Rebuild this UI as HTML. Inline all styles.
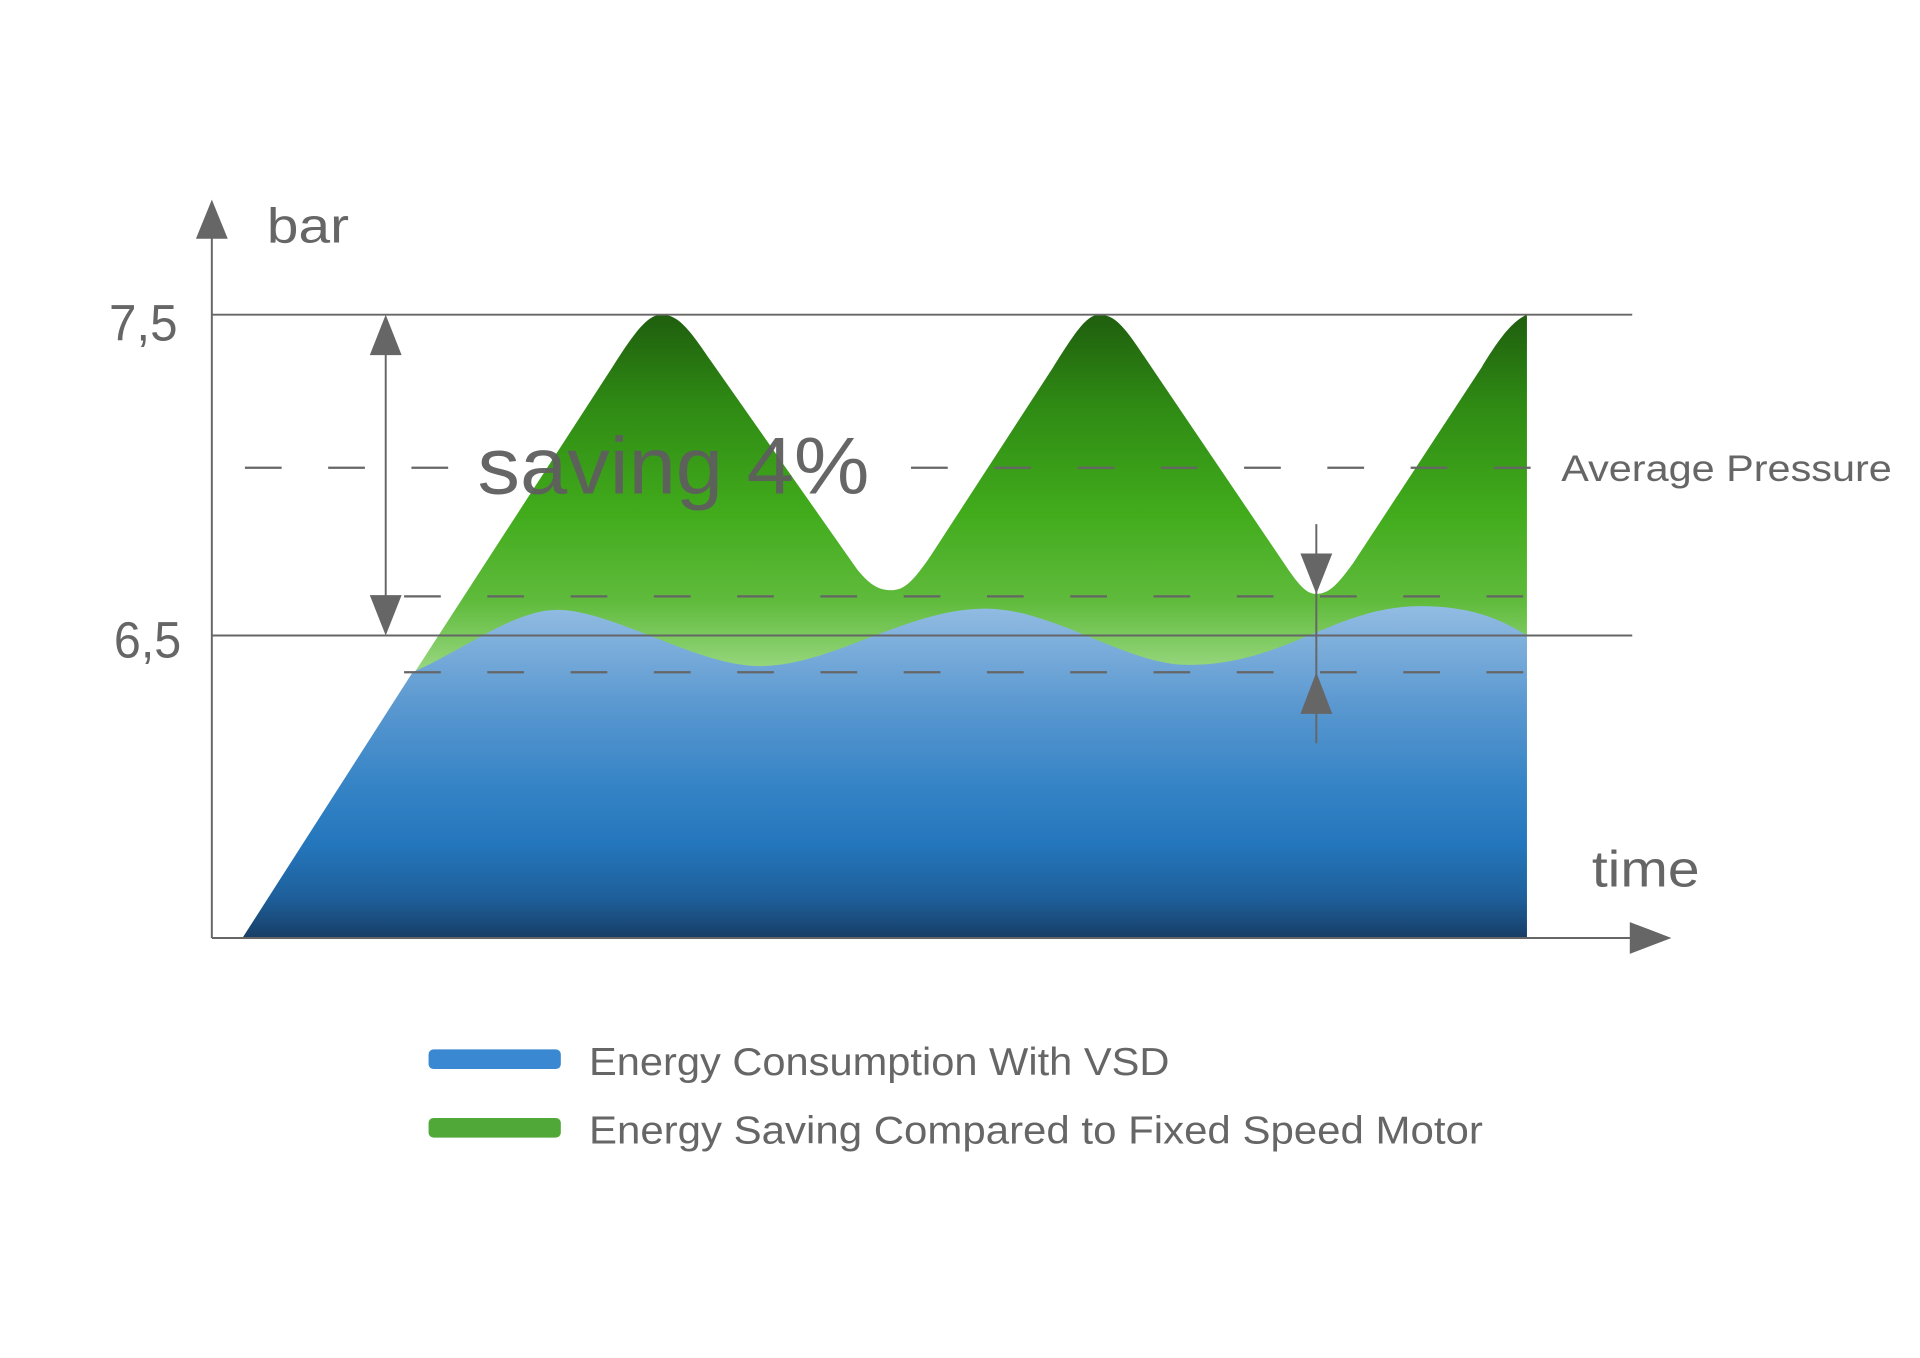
<!DOCTYPE html>
<html><head><meta charset="utf-8"><style>
html,body{margin:0;padding:0;background:#fff;}
svg{display:block;}
text{font-family:"Liberation Sans",sans-serif;fill:#666;}
</style></head><body>
<svg width="1920" height="1358" viewBox="0 0 1568 1109" preserveAspectRatio="none" xmlns="http://www.w3.org/2000/svg">
<defs>
<linearGradient id="g" x1="0" y1="257" x2="0" y2="550" gradientUnits="userSpaceOnUse">
<stop offset="0" stop-color="#1f5e0e"/>
<stop offset="0.25" stop-color="#2f8a14"/>
<stop offset="0.55" stop-color="#41ab1c"/>
<stop offset="0.8" stop-color="#60bb3c"/>
<stop offset="1" stop-color="#9bd883"/>
</linearGradient>
<linearGradient id="b" x1="0" y1="495" x2="0" y2="766" gradientUnits="userSpaceOnUse">
<stop offset="0" stop-color="#92bce2"/>
<stop offset="0.3" stop-color="#5a98d0"/>
<stop offset="0.55" stop-color="#3483c5"/>
<stop offset="0.72" stop-color="#2476bc"/>
<stop offset="0.88" stop-color="#1e5f9a"/>
<stop offset="1" stop-color="#173e66"/>
</linearGradient>
</defs>
<!-- green area -->
<path fill="url(#g)" d="M198,766 L500,300 C520,268 530,257 540,257 C552,257 560,264 580,294 L700,465 C712,480 720,482 728,482 C738,482 745,476 760,454 L860,300 C880,268 888,257 898,257 C910,257 918,266 935,292 L1050,462 C1062,480 1068,485 1075,485 C1085,485 1092,478 1105,460 L1210,300 C1228,270 1238,261 1247,257 L1247,766 Z"/>
<!-- blue area -->
<path fill="url(#b)" d="M198,766 L337,549 C380,530 420,498 455,498 C500,498 570,544 620,544 C680,544 740,497 805,497 C860,497 920,543 970,543 C1050,543 1090,495 1160,495 C1200,495 1225,505 1247,519 L1247,766 Z"/>
<!-- grid lines -->
<g stroke="#666" stroke-width="1.6" fill="none">
<line x1="173" y1="257" x2="1333" y2="257"/>
<line x1="173" y1="519" x2="1333" y2="519"/>
<line x1="173" y1="766" x2="1335" y2="766"/>
<line x1="173" y1="766" x2="173" y2="192"/>
</g>
<g stroke="#666" stroke-width="1.8" stroke-dasharray="30 38" fill="none">
<line x1="200" y1="382" x2="388" y2="382"/>
<line x1="744" y1="382" x2="1258" y2="382"/>
<line x1="330" y1="487" x2="1258" y2="487"/>
<line x1="330" y1="549" x2="1258" y2="549"/>
</g>
<!-- axis arrows -->
<polygon fill="#666" points="173,163 160,195 186,195"/>
<polygon fill="#666" points="1365,766 1331,753 1331,779"/>
<!-- range arrow -->
<line x1="315" y1="280" x2="315" y2="500" stroke="#666" stroke-width="1.6"/>
<polygon fill="#666" points="315,257 302,290 328,290"/>
<polygon fill="#666" points="315,519 302,486 328,486"/>
<!-- small arrows -->
<line x1="1075" y1="428" x2="1075" y2="607" stroke="#666" stroke-width="1.6"/>
<polygon fill="#666" points="1075,485 1062,452 1088,452"/>
<polygon fill="#666" points="1075,549 1062,583 1088,583"/>
<!-- text -->
<text x="218" y="198" font-size="40" textLength="67" lengthAdjust="spacingAndGlyphs">bar</text>
<text x="89" y="278" font-size="42" textLength="56" lengthAdjust="spacingAndGlyphs">7,5</text>
<text x="93" y="537" font-size="42" textLength="55" lengthAdjust="spacingAndGlyphs">6,5</text>
<text x="390" y="403" font-size="66" textLength="320" lengthAdjust="spacingAndGlyphs" style="fill:#5e5e5e;opacity:0.95">saving 4%</text>
<text x="1275" y="393" font-size="30" textLength="270" lengthAdjust="spacingAndGlyphs">Average Pressure</text>
<text x="1300" y="724" font-size="42" textLength="88" lengthAdjust="spacingAndGlyphs">time</text>
<rect x="350" y="857" width="108" height="16" rx="4" fill="#3a87d2"/>
<rect x="350" y="913" width="108" height="16" rx="4" fill="#4fa838"/>
<text x="481" y="878" font-size="32" textLength="474" lengthAdjust="spacingAndGlyphs">Energy Consumption With VSD</text>
<text x="481" y="934" font-size="32" textLength="730" lengthAdjust="spacingAndGlyphs">Energy Saving Compared to Fixed Speed Motor</text>
</svg>
</body></html>
